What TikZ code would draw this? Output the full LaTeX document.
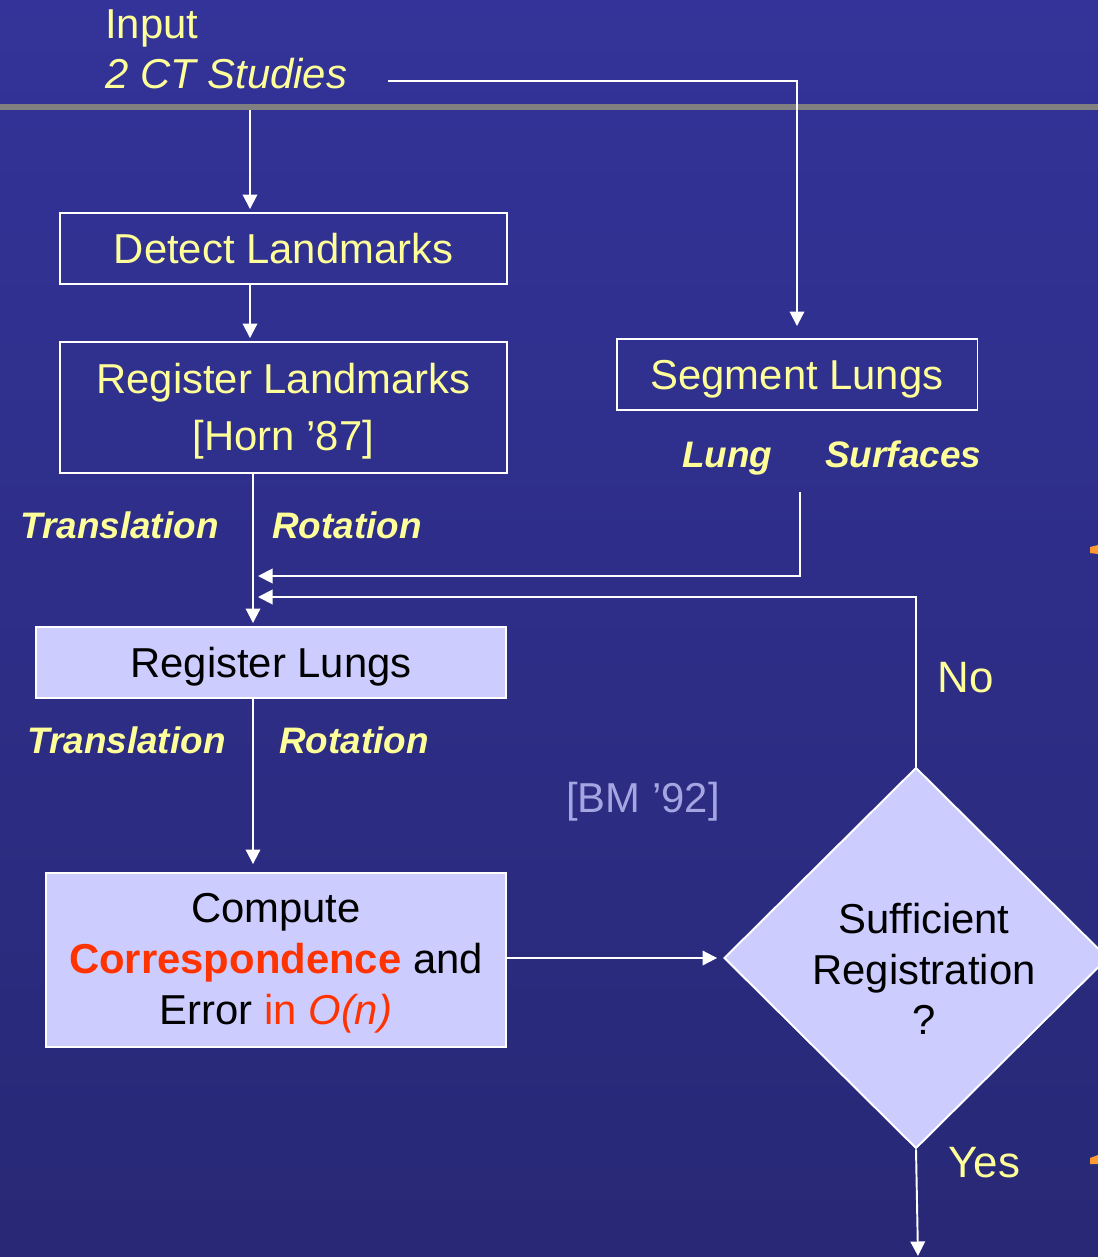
\documentclass[tikz,border=0pt]{standalone}
\usepackage{fontspec}
\setmainfont{Liberation Sans}
\usetikzlibrary{arrows.meta,shapes.geometric}
\definecolor{SlideBlue}{RGB}{51,51,153}
\definecolor{SlideBlueDark}{RGB}{40,40,118}
\definecolor{PaleYellow}{RGB}{255,255,153}
\definecolor{Lavender}{RGB}{204,204,255}
\definecolor{CiteGrey}{RGB}{165,165,225}
\definecolor{HotRed}{RGB}{255,51,0}
\definecolor{MarkOrange}{RGB}{255,153,51}

\newcommand{\boxfont}{\fontsize{23.8}{28.6}\selectfont}
\newcommand{\tagfont}{\fontsize{21}{25}\selectfont\bfseries\itshape}

\tikzset{
  flow/.style={draw=white, line width=1.1pt, -{Triangle[length=0.29cm,width=0.29cm]}, shorten >=0.06cm},
  outbox/.style={draw=white, line width=1.1pt, text=PaleYellow, font=\boxfont, align=center, inner sep=0pt},
  litebox/.style={outbox, fill=Lavender, text=black},
  edgetag/.style={font=\tagfont, text=PaleYellow, anchor=base west, inner sep=0pt},
  plaintag/.style={font=\boxfont, text=PaleYellow, anchor=base west, inner sep=0pt},
}

\begin{document}
\begin{tikzpicture}[x=0.02cm, y=-0.02cm]

% slide background and title rule
\useasboundingbox (0,0) rectangle (1098,1257);
\clip (0,0) rectangle (1098,1257);
\shade[top color=SlideBlue, bottom color=SlideBlueDark] (0,0) rectangle (1098,1257);
\fill[gray] (0,104) rectangle (1098,110);

% --- Input ---
\node[plaintag] (input) at (105,39) {Input};
\node[plaintag, font=\boxfont\itshape] (studies) at (105,89) {2 CT Studies};

% --- Boxes ---
\node[outbox, minimum width=8.94cm, minimum height=1.42cm, text depth=0pt] (detect) at (283.5,248.5) {Detect Landmarks};
\node[outbox, minimum width=8.94cm, minimum height=2.62cm, font=\fontsize{23.8}{32.9}\selectfont] (reglm) at (283.5,407.5) {\rule{0pt}{0.9em}Register Landmarks\\{[Horn '87]}};
\node[outbox, minimum width=7.22cm, minimum height=1.42cm, text depth=0pt] (seglung) at (797,374.5) {Segment Lungs};
\node[litebox, minimum width=9.4cm, minimum height=1.42cm, text depth=0pt] (reglung) at (271,662.5) {Register Lungs};
\node[litebox, minimum width=9.2cm, minimum height=3.48cm, font=\fontsize{23.8}{28.9}\selectfont] (compute) at (276,960)
  {\rule{0pt}{0.85em}Compute\\\textcolor{HotRed}{\bfseries Correspondence} and\\Error \textcolor{HotRed}{in \itshape O(n)}};

% decision
\node[diamond, draw=white, line width=1.1pt, fill=Lavender, minimum width=7.68cm, minimum height=7.62cm, inner sep=0pt] (suff) at (916,958) {};
\node[font=\boxfont, align=center, inner sep=0pt] (sufftext) at (924,969) {Sufficient\\Registration\\?};

% --- Labels ---
\node[edgetag] (transA) at (20,538) {Translation};
\node[edgetag] (rotA) at (272,538) {Rotation};
\node[edgetag] (lung) at (682,467) {Lung};
\node[edgetag] (surfaces) at (825,467) {Surfaces};
\node[edgetag] (transB) at (27,753) {Translation};
\node[edgetag] (rotB) at (279,753) {Rotation};
\node[plaintag, font=\fontsize{25}{30}\selectfont] (no) at (937,692) {No};
\node[plaintag, font=\fontsize{25}{30}\selectfont] (yes) at (948,1177) {Yes};
\node[plaintag, text=CiteGrey] (bm) at (566,812) {[BM '92]};

% --- Connectors ---
\coordinate (splitin) at (250,110);
\coordinate (ctout) at (388,81);
\coordinate (trunk) at (253,0);
\coordinate (surfout) at (800,492);
\coordinate (mergeA) at (253,576);
\coordinate (mergeB) at (253,597);
\coordinate (yesout) at (918,1256);

\draw[flow] (splitin) -- (detect.north -| splitin);
\draw[flow, shorten >=0.24cm] (ctout) -| (seglung.north);
\draw[flow] (detect.south -| splitin) -- (reglm.north -| splitin);
\draw[flow] (reglm.south -| trunk) -- (reglung.north -| trunk);
\draw[flow, shorten >=0.1cm] (surfout) |- (mergeA);
\draw[flow, shorten >=0.1cm] (suff.north) |- (mergeB);
\draw[flow, shorten >=0.16cm] (reglung.south -| trunk) -- (compute.north -| trunk);
\draw[flow, shorten >=0.12cm] (compute.east |- suff.west) -- (suff.west);
\draw[flow, shorten >=0pt] (suff.south) -- (yesout);

% cut-off marks at the right edge
\fill[MarkOrange] (1090,547) -- (1098,545) -- (1098,554) -- (1090,553) -- cycle;
\fill[MarkOrange] (1090,1158) -- (1098,1155) -- (1098,1164) -- (1090,1164) -- cycle;

\end{tikzpicture}
\end{document}
